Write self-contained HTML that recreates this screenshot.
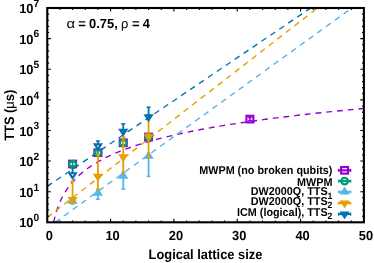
<!DOCTYPE html>
<html><head><meta charset="utf-8"><title>TTS vs logical lattice size</title>
<style>html,body{margin:0;padding:0;background:#fff;}body{width:374px;height:263px;overflow:hidden;}svg{display:block;will-change:transform;}text{font-family:"Liberation Sans",sans-serif;font-weight:bold;fill:#000;text-rendering:geometricPrecision;}</style></head><body>
<svg width="374" height="263" viewBox="0 0 374 263">
<rect x="0" y="0" width="374" height="263" fill="#fff"/>
<defs><clipPath id="pc"><rect x="47.25" y="8.0" width="316.65" height="214.3"/></clipPath></defs>
<g clip-path="url(#pc)" fill="none" stroke-width="1.4" stroke-dasharray="5.8 4.98">
<polyline stroke="#9400D3" points="53.58,222.30 53.65,222.02 53.71,221.73 53.77,221.45 53.84,221.16 53.90,220.88 53.97,220.59 54.03,220.31 54.10,220.02 54.17,219.74 54.23,219.45 54.30,219.17 54.37,218.89 54.44,218.60 54.51,218.32 54.58,218.03 54.66,217.75 54.73,217.46 54.80,217.18 54.88,216.89 54.95,216.61 55.03,216.33 55.10,216.04 55.18,215.76 55.26,215.47 55.34,215.19 55.42,214.90 55.50,214.62 55.58,214.33 55.66,214.05 55.74,213.76 55.83,213.48 55.91,213.20 56.00,212.91 56.08,212.63 56.17,212.34 56.26,212.06 56.34,211.77 56.43,211.49 56.52,211.20 56.61,210.92 56.71,210.64 56.80,210.35 56.89,210.07 56.99,209.78 57.08,209.50 57.18,209.21 57.28,208.93 57.38,208.64 57.48,208.36 57.58,208.07 57.68,207.79 57.78,207.51 57.88,207.22 57.99,206.94 58.09,206.65 58.20,206.37 58.31,206.08 58.42,205.80 58.53,205.51 58.64,205.23 58.75,204.94 58.86,204.66 58.98,204.38 59.09,204.09 59.21,203.81 59.33,203.52 59.45,203.24 59.56,202.95 59.69,202.67 59.81,202.38 59.93,202.10 60.06,201.82 60.18,201.53 60.31,201.25 60.44,200.96 60.57,200.68 60.70,200.39 60.83,200.11 60.96,199.82 61.10,199.54 61.23,199.25 61.37,198.97 61.51,198.69 61.65,198.40 61.79,198.12 61.94,197.83 62.08,197.55 62.23,197.26 62.37,196.98 62.52,196.69 62.67,196.41 62.82,196.13 62.98,195.84 63.13,195.56 63.29,195.27 63.44,194.99 63.60,194.70 63.76,194.42 63.93,194.13 64.09,193.85 64.26,193.56 64.42,193.28 64.59,193.00 64.76,192.71 64.93,192.43 65.11,192.14 65.28,191.86 65.46,191.57 65.64,191.29 65.82,191.00 66.00,190.72 66.19,190.43 66.37,190.15 66.56,189.87 66.75,189.58 66.94,189.30 67.14,189.01 67.33,188.73 67.53,188.44 67.73,188.16 67.93,187.87 68.13,187.59 68.34,187.31 68.55,187.02 68.75,186.74 68.97,186.45 69.18,186.17 69.40,185.88 69.61,185.60 69.83,185.31 70.05,185.03 70.28,184.74 70.51,184.46 70.73,184.18 70.96,183.89 71.20,183.61 71.43,183.32 71.67,183.04 71.91,182.75 72.15,182.47 72.40,182.18 72.64,181.90 72.89,181.62 73.15,181.33 73.40,181.05 73.66,180.76 73.92,180.48 74.18,180.19 74.44,179.91 74.71,179.62 74.98,179.34 75.25,179.05 75.53,178.77 75.81,178.49 76.09,178.20 76.37,177.92 76.66,177.63 76.95,177.35 77.24,177.06 77.53,176.78 77.83,176.49 78.13,176.21 78.43,175.92 78.74,175.64 79.05,175.36 79.36,175.07 79.68,174.79 80.00,174.50 80.32,174.22 80.64,173.93 80.97,173.65 81.30,173.36 81.64,173.08 81.98,172.80 82.32,172.51 82.66,172.23 83.01,171.94 83.36,171.66 83.72,171.37 84.08,171.09 84.44,170.80 84.80,170.52 85.17,170.23 85.54,169.95 85.92,169.67 86.30,169.38 86.68,169.10 87.07,168.81 87.46,168.53 87.86,168.24 88.26,167.96 88.66,167.67 89.07,167.39 89.48,167.11 89.89,166.82 90.31,166.54 90.74,166.25 91.16,165.97 91.60,165.68 92.03,165.40 92.47,165.11 92.92,164.83 93.36,164.54 93.82,164.26 94.28,163.98 94.74,163.69 95.20,163.41 95.68,163.12 96.15,162.84 96.63,162.55 97.12,162.27 97.61,161.98 98.10,161.70 98.60,161.41 99.11,161.13 99.62,160.85 100.13,160.56 100.65,160.28 101.18,159.99 101.71,159.71 102.24,159.42 102.78,159.14 103.33,158.85 103.88,158.57 104.43,158.29 105.00,158.00 105.56,157.72 106.14,157.43 106.72,157.15 107.30,156.86 107.89,156.58 108.49,156.29 109.09,156.01 109.70,155.72 110.31,155.44 110.93,155.16 111.56,154.87 112.19,154.59 112.83,154.30 113.47,154.02 114.12,153.73 114.78,153.45 115.44,153.16 116.11,152.88 116.79,152.60 117.47,152.31 118.16,152.03 118.86,151.74 119.56,151.46 120.27,151.17 120.99,150.89 121.72,150.60 122.45,150.32 123.19,150.03 123.93,149.75 124.69,149.47 125.45,149.18 126.22,148.90 126.99,148.61 127.78,148.33 128.57,148.04 129.37,147.76 130.17,147.47 130.99,147.19 131.81,146.90 132.64,146.62 133.48,146.34 134.33,146.05 135.19,145.77 136.05,145.48 136.92,145.20 137.80,144.91 138.69,144.63 139.59,144.34 140.50,144.06 141.42,143.78 142.34,143.49 143.28,143.21 144.22,142.92 145.17,142.64 146.14,142.35 147.11,142.07 148.09,141.78 149.08,141.50 150.08,141.21 151.09,140.93 152.11,140.65 153.14,140.36 154.18,140.08 155.23,139.79 156.30,139.51 157.37,139.22 158.45,138.94 159.54,138.65 160.65,138.37 161.76,138.09 162.89,137.80 164.02,137.52 165.17,137.23 166.33,136.95 167.50,136.66 168.68,136.38 169.88,136.09 171.08,135.81 172.30,135.52 173.53,135.24 174.77,134.96 176.02,134.67 177.29,134.39 178.56,134.10 179.85,133.82 181.16,133.53 182.47,133.25 183.80,132.96 185.14,132.68 186.50,132.39 187.87,132.11 189.25,131.83 190.65,131.54 192.06,131.26 193.48,130.97 194.92,130.69 196.37,130.40 197.83,130.12 199.31,129.83 200.81,129.55 202.32,129.27 203.84,128.98 205.38,128.70 206.93,128.41 208.50,128.13 210.09,127.84 211.69,127.56 213.30,127.27 214.94,126.99 216.58,126.70 218.25,126.42 219.93,126.14 221.63,125.85 223.34,125.57 225.07,125.28 226.82,125.00 228.58,124.71 230.36,124.43 232.16,124.14 233.98,123.86 235.82,123.58 237.67,123.29 239.54,123.01 241.43,122.72 243.34,122.44 245.27,122.15 247.21,121.87 249.18,121.58 251.16,121.30 253.17,121.01 255.19,120.73 257.23,120.45 259.30,120.16 261.38,119.88 263.49,119.59 265.61,119.31 267.76,119.02 269.93,118.74 272.11,118.45 274.32,118.17 276.56,117.88 278.81,117.60 281.08,117.32 283.38,117.03 285.70,116.75 288.05,116.46 290.41,116.18 292.80,115.89 295.22,115.61 297.65,115.32 300.11,115.04 302.60,114.76 305.11,114.47 307.64,114.19 310.20,113.90 312.79,113.62 315.40,113.33 318.03,113.05 320.69,112.76 323.38,112.48 326.10,112.19 328.84,111.91 331.60,111.63 334.40,111.34 337.22,111.06 340.07,110.77 342.95,110.49 345.85,110.20 348.79,109.92 351.75,109.63 354.74,109.35 357.77,109.07 360.82,108.78 363.90,108.50"/>
<line stroke="#56B4E9" x1="55.2" y1="222.3" x2="351.8" y2="8.0"/>
<line stroke="#E69F00" x1="47.25" y1="217.4" x2="317.6" y2="8.0"/>
<line stroke="#0072B2" x1="47.25" y1="186.3" x2="310.7" y2="8.0"/>
</g>
<rect x="69.13" y="160.70" width="6.90" height="6.60" fill="none" stroke="#9400D3" stroke-width="2.15"/>
<rect x="94.46" y="149.40" width="6.90" height="6.60" fill="none" stroke="#9400D3" stroke-width="2.15"/>
<rect x="119.80" y="139.50" width="6.90" height="6.60" fill="none" stroke="#9400D3" stroke-width="2.15"/>
<rect x="145.13" y="133.70" width="6.90" height="6.60" fill="none" stroke="#9400D3" stroke-width="2.15"/>
<rect x="246.46" y="115.80" width="6.90" height="6.60" fill="none" stroke="#9400D3" stroke-width="2.15"/>
<line x1="249.91" y1="116.90" x2="249.91" y2="121.30" stroke="#9400D3" stroke-width="1.6"/>
<path d="M248.11 117.50h3.6M248.11 120.70h3.6" stroke="#9400D3" stroke-width="1.3"/>
<ellipse cx="72.58" cy="164.00" rx="3.40" ry="3.20" fill="none" stroke="#009E73" stroke-width="2.3"/>
<line x1="72.58" y1="161.80" x2="72.58" y2="166.20" stroke="#009E73" stroke-width="1.5"/>
<path d="M70.68 162.30h3.8M70.68 165.70h3.8" stroke="#009E73" stroke-width="1.2"/>
<ellipse cx="97.91" cy="152.70" rx="3.40" ry="3.20" fill="none" stroke="#009E73" stroke-width="2.3"/>
<line x1="97.91" y1="150.50" x2="97.91" y2="154.90" stroke="#009E73" stroke-width="1.5"/>
<path d="M96.01 151.00h3.8M96.01 154.40h3.8" stroke="#009E73" stroke-width="1.2"/>
<ellipse cx="123.25" cy="142.80" rx="3.40" ry="3.20" fill="none" stroke="#009E73" stroke-width="2.3"/>
<line x1="123.25" y1="140.60" x2="123.25" y2="145.00" stroke="#009E73" stroke-width="1.5"/>
<path d="M121.35 141.10h3.8M121.35 144.50h3.8" stroke="#009E73" stroke-width="1.2"/>
<ellipse cx="148.58" cy="137.00" rx="3.40" ry="3.20" fill="none" stroke="#009E73" stroke-width="2.3"/>
<line x1="148.58" y1="134.80" x2="148.58" y2="139.20" stroke="#009E73" stroke-width="1.5"/>
<path d="M146.68 135.30h3.8M146.68 138.70h3.8" stroke="#009E73" stroke-width="1.2"/>
<line x1="72.58" y1="201.00" x2="72.58" y2="204.00" stroke="#56B4E9" stroke-width="1.8"/>
<line x1="70.58" y1="204.00" x2="74.58" y2="204.00" stroke="#56B4E9" stroke-width="1.5"/>
<polygon points="72.58,197.73 69.41,202.63 75.75,202.63" fill="none" stroke="#56B4E9" stroke-width="2.15" stroke-linejoin="miter"/>
<line x1="97.91" y1="189.00" x2="97.91" y2="199.30" stroke="#56B4E9" stroke-width="1.8"/>
<line x1="95.91" y1="199.30" x2="99.91" y2="199.30" stroke="#56B4E9" stroke-width="1.5"/>
<polygon points="97.91,189.73 94.75,194.63 101.08,194.63" fill="none" stroke="#56B4E9" stroke-width="2.15" stroke-linejoin="miter"/>
<line x1="123.25" y1="172.00" x2="123.25" y2="189.10" stroke="#56B4E9" stroke-width="1.8"/>
<line x1="121.25" y1="189.10" x2="125.25" y2="189.10" stroke="#56B4E9" stroke-width="1.5"/>
<polygon points="123.25,172.83 120.08,177.73 126.41,177.73" fill="none" stroke="#56B4E9" stroke-width="2.15" stroke-linejoin="miter"/>
<line x1="148.58" y1="152.00" x2="148.58" y2="176.40" stroke="#56B4E9" stroke-width="1.8"/>
<line x1="146.58" y1="176.40" x2="150.58" y2="176.40" stroke="#56B4E9" stroke-width="1.5"/>
<polygon points="148.58,152.73 145.41,157.63 151.75,157.63" fill="none" stroke="#56B4E9" stroke-width="2.15" stroke-linejoin="miter"/>
<line x1="72.58" y1="181.30" x2="72.58" y2="202.50" stroke="#E69F00" stroke-width="1.8"/>
<line x1="70.58" y1="181.30" x2="74.58" y2="181.30" stroke="#E69F00" stroke-width="1.5"/>
<line x1="70.58" y1="202.50" x2="74.58" y2="202.50" stroke="#E69F00" stroke-width="1.5"/>
<polygon points="72.58,202.87 69.41,197.97 75.75,197.97" fill="none" stroke="#E69F00" stroke-width="2.15" stroke-linejoin="miter"/>
<line x1="97.91" y1="154.50" x2="97.91" y2="189.30" stroke="#E69F00" stroke-width="1.8"/>
<line x1="95.91" y1="154.50" x2="99.91" y2="154.50" stroke="#E69F00" stroke-width="1.5"/>
<line x1="95.91" y1="189.30" x2="99.91" y2="189.30" stroke="#E69F00" stroke-width="1.5"/>
<polygon points="97.91,179.77 94.75,174.87 101.08,174.87" fill="none" stroke="#E69F00" stroke-width="2.15" stroke-linejoin="miter"/>
<line x1="123.25" y1="136.80" x2="123.25" y2="172.30" stroke="#E69F00" stroke-width="1.8"/>
<line x1="121.25" y1="136.80" x2="125.25" y2="136.80" stroke="#E69F00" stroke-width="1.5"/>
<line x1="121.25" y1="172.30" x2="125.25" y2="172.30" stroke="#E69F00" stroke-width="1.5"/>
<polygon points="123.25,160.27 120.08,155.37 126.41,155.37" fill="none" stroke="#E69F00" stroke-width="2.15" stroke-linejoin="miter"/>
<line x1="148.58" y1="114.60" x2="148.58" y2="157.60" stroke="#E69F00" stroke-width="1.8"/>
<line x1="146.58" y1="114.60" x2="150.58" y2="114.60" stroke="#E69F00" stroke-width="1.5"/>
<line x1="146.58" y1="157.60" x2="150.58" y2="157.60" stroke="#E69F00" stroke-width="1.5"/>
<polygon points="148.58,139.77 145.41,134.87 151.75,134.87" fill="none" stroke="#E69F00" stroke-width="2.15" stroke-linejoin="miter"/>
<line x1="72.58" y1="168.00" x2="72.58" y2="173.30" stroke="#0072B2" stroke-width="1.8"/>
<line x1="70.58" y1="168.00" x2="74.58" y2="168.00" stroke="#0072B2" stroke-width="1.5"/>
<polygon points="72.58,178.17 69.41,173.27 75.75,173.27" fill="none" stroke="#0072B2" stroke-width="2.15" stroke-linejoin="miter"/>
<line x1="97.91" y1="141.00" x2="97.91" y2="144.40" stroke="#0072B2" stroke-width="1.8"/>
<line x1="95.91" y1="141.00" x2="99.91" y2="141.00" stroke="#0072B2" stroke-width="1.5"/>
<polygon points="97.91,149.27 94.75,144.37 101.08,144.37" fill="none" stroke="#0072B2" stroke-width="2.15" stroke-linejoin="miter"/>
<line x1="123.25" y1="123.80" x2="123.25" y2="134.70" stroke="#0072B2" stroke-width="1.8"/>
<line x1="121.25" y1="123.80" x2="125.25" y2="123.80" stroke="#0072B2" stroke-width="1.5"/>
<polygon points="123.25,134.77 120.08,129.87 126.41,129.87" fill="none" stroke="#0072B2" stroke-width="2.15" stroke-linejoin="miter"/>
<line x1="148.58" y1="107.20" x2="148.58" y2="120.20" stroke="#0072B2" stroke-width="1.8"/>
<line x1="146.58" y1="107.20" x2="150.58" y2="107.20" stroke="#0072B2" stroke-width="1.5"/>
<polygon points="148.58,120.27 145.41,115.37 151.75,115.37" fill="none" stroke="#0072B2" stroke-width="2.15" stroke-linejoin="miter"/>
<line x1="338.40" y1="170.30" x2="350.80" y2="170.30" stroke="#9400D3" stroke-width="2.1"/>
<line x1="338.60" y1="168.85" x2="338.60" y2="171.75" stroke="#9400D3" stroke-width="1.4"/>
<line x1="350.60" y1="168.85" x2="350.60" y2="171.75" stroke="#9400D3" stroke-width="1.4"/>
<rect x="341.15" y="167.00" width="6.90" height="6.60" fill="none" stroke="#9400D3" stroke-width="2.15"/>
<line x1="338.40" y1="181.10" x2="350.80" y2="181.10" stroke="#009E73" stroke-width="2.1"/>
<line x1="338.60" y1="179.65" x2="338.60" y2="182.55" stroke="#009E73" stroke-width="1.4"/>
<line x1="350.60" y1="179.65" x2="350.60" y2="182.55" stroke="#009E73" stroke-width="1.4"/>
<ellipse cx="344.60" cy="181.10" rx="3.40" ry="3.20" fill="none" stroke="#009E73" stroke-width="2.3"/>
<line x1="338.40" y1="191.90" x2="350.80" y2="191.90" stroke="#56B4E9" stroke-width="2.1"/>
<line x1="338.60" y1="190.45" x2="338.60" y2="193.35" stroke="#56B4E9" stroke-width="1.4"/>
<line x1="350.60" y1="190.45" x2="350.60" y2="193.35" stroke="#56B4E9" stroke-width="1.4"/>
<polygon points="344.60,188.63 341.43,193.53 347.77,193.53" fill="none" stroke="#56B4E9" stroke-width="2.15" stroke-linejoin="miter"/>
<line x1="338.40" y1="203.10" x2="350.80" y2="203.10" stroke="#E69F00" stroke-width="2.1"/>
<line x1="338.60" y1="201.65" x2="338.60" y2="204.55" stroke="#E69F00" stroke-width="1.4"/>
<line x1="350.60" y1="201.65" x2="350.60" y2="204.55" stroke="#E69F00" stroke-width="1.4"/>
<polygon points="344.60,206.37 341.43,201.47 347.77,201.47" fill="none" stroke="#E69F00" stroke-width="2.15" stroke-linejoin="miter"/>
<line x1="338.40" y1="214.10" x2="350.80" y2="214.10" stroke="#0072B2" stroke-width="2.1"/>
<line x1="338.60" y1="212.65" x2="338.60" y2="215.55" stroke="#0072B2" stroke-width="1.4"/>
<line x1="350.60" y1="212.65" x2="350.60" y2="215.55" stroke="#0072B2" stroke-width="1.4"/>
<polygon points="344.60,217.37 341.43,212.47 347.77,212.47" fill="none" stroke="#0072B2" stroke-width="2.15" stroke-linejoin="miter"/>
<text transform="translate(332.40,173.60) scale(1.0,1.06)" font-size="10.8" text-anchor="end" >MWPM (no broken qubits)</text>
<text transform="translate(332.40,185.50) scale(1.0,1.06)" font-size="10.8" text-anchor="end" >MWPM</text>
<text transform="translate(332.40,195.20) scale(1.0,1.06)" font-size="10.8" text-anchor="end" >DW2000Q, TTS<tspan font-size="8.6" dy="3.2">1</tspan></text>
<text transform="translate(332.40,205.00) scale(1.0,1.06)" font-size="10.8" text-anchor="end" >DW2000Q, TTS<tspan font-size="8.6" dy="3.2">2</tspan></text>
<text transform="translate(332.40,215.60) scale(1.0,1.06)" font-size="10.8" text-anchor="end" >ICM (logical), TTS<tspan font-size="8.6" dy="3.2">2</tspan></text>
<rect x="47.25" y="8.0" width="316.65" height="214.3" fill="none" stroke="#000" stroke-width="2.1"/>
<path d="M47.25 216.18h1.9 M363.9 216.18h-1.9 M47.25 210.05h1.9 M363.9 210.05h-1.9 M47.25 203.93h1.9 M363.9 203.93h-1.9 M47.25 197.81h1.9 M363.9 197.81h-1.9 M47.25 191.69h3.6 M363.9 191.69h-3.6 M47.25 185.56h1.9 M363.9 185.56h-1.9 M47.25 179.44h1.9 M363.9 179.44h-1.9 M47.25 173.32h1.9 M363.9 173.32h-1.9 M47.25 167.19h1.9 M363.9 167.19h-1.9 M47.25 161.07h3.6 M363.9 161.07h-3.6 M47.25 154.95h1.9 M363.9 154.95h-1.9 M47.25 148.83h1.9 M363.9 148.83h-1.9 M47.25 142.70h1.9 M363.9 142.70h-1.9 M47.25 136.58h1.9 M363.9 136.58h-1.9 M47.25 130.46h3.6 M363.9 130.46h-3.6 M47.25 124.33h1.9 M363.9 124.33h-1.9 M47.25 118.21h1.9 M363.9 118.21h-1.9 M47.25 112.09h1.9 M363.9 112.09h-1.9 M47.25 105.97h1.9 M363.9 105.97h-1.9 M47.25 99.84h3.6 M363.9 99.84h-3.6 M47.25 93.72h1.9 M363.9 93.72h-1.9 M47.25 87.60h1.9 M363.9 87.60h-1.9 M47.25 81.47h1.9 M363.9 81.47h-1.9 M47.25 75.35h1.9 M363.9 75.35h-1.9 M47.25 69.23h3.6 M363.9 69.23h-3.6 M47.25 63.11h1.9 M363.9 63.11h-1.9 M47.25 56.98h1.9 M363.9 56.98h-1.9 M47.25 50.86h1.9 M363.9 50.86h-1.9 M47.25 44.74h1.9 M363.9 44.74h-1.9 M47.25 38.61h3.6 M363.9 38.61h-3.6 M47.25 32.49h1.9 M363.9 32.49h-1.9 M47.25 26.37h1.9 M363.9 26.37h-1.9 M47.25 20.25h1.9 M363.9 20.25h-1.9 M47.25 14.12h1.9 M363.9 14.12h-1.9 M59.92 222.3v-1.9 M59.92 8.0v1.9 M72.58 222.3v-1.9 M72.58 8.0v1.9 M85.25 222.3v-1.9 M85.25 8.0v1.9 M97.91 222.3v-1.9 M97.91 8.0v1.9 M110.58 222.3v-3.6 M110.58 8.0v3.6 M123.25 222.3v-1.9 M123.25 8.0v1.9 M135.91 222.3v-1.9 M135.91 8.0v1.9 M148.58 222.3v-1.9 M148.58 8.0v1.9 M161.24 222.3v-1.9 M161.24 8.0v1.9 M173.91 222.3v-3.6 M173.91 8.0v3.6 M186.58 222.3v-1.9 M186.58 8.0v1.9 M199.24 222.3v-1.9 M199.24 8.0v1.9 M211.91 222.3v-1.9 M211.91 8.0v1.9 M224.57 222.3v-1.9 M224.57 8.0v1.9 M237.24 222.3v-3.6 M237.24 8.0v3.6 M249.91 222.3v-1.9 M249.91 8.0v1.9 M262.57 222.3v-1.9 M262.57 8.0v1.9 M275.24 222.3v-1.9 M275.24 8.0v1.9 M287.90 222.3v-1.9 M287.90 8.0v1.9 M300.57 222.3v-3.6 M300.57 8.0v3.6 M313.24 222.3v-1.9 M313.24 8.0v1.9 M325.90 222.3v-1.9 M325.90 8.0v1.9 M338.57 222.3v-1.9 M338.57 8.0v1.9 M351.23 222.3v-1.9 M351.23 8.0v1.9" stroke="#000" stroke-width="1.1" fill="none"/>
<text transform="translate(19.2,227.40) scale(1.0,1.025)" font-size="12.9">10<tspan font-size="10.2" dy="-6.1">0</tspan></text>
<text transform="translate(19.2,196.79) scale(1.0,1.025)" font-size="12.9">10<tspan font-size="10.2" dy="-6.1">1</tspan></text>
<text transform="translate(19.2,166.17) scale(1.0,1.025)" font-size="12.9">10<tspan font-size="10.2" dy="-6.1">2</tspan></text>
<text transform="translate(19.2,135.56) scale(1.0,1.025)" font-size="12.9">10<tspan font-size="10.2" dy="-6.1">3</tspan></text>
<text transform="translate(19.2,104.94) scale(1.0,1.025)" font-size="12.9">10<tspan font-size="10.2" dy="-6.1">4</tspan></text>
<text transform="translate(19.2,74.33) scale(1.0,1.025)" font-size="12.9">10<tspan font-size="10.2" dy="-6.1">5</tspan></text>
<text transform="translate(19.2,43.71) scale(1.0,1.025)" font-size="12.9">10<tspan font-size="10.2" dy="-6.1">6</tspan></text>
<text transform="translate(19.2,13.10) scale(1.0,1.025)" font-size="12.9">10<tspan font-size="10.2" dy="-6.1">7</tspan></text>
<text transform="translate(49.25,240.10) scale(1.0,1.025)" font-size="12.9" text-anchor="middle" >0</text>
<text transform="translate(112.58,240.10) scale(1.0,1.025)" font-size="12.9" text-anchor="middle" >10</text>
<text transform="translate(175.91,240.10) scale(1.0,1.025)" font-size="12.9" text-anchor="middle" >20</text>
<text transform="translate(239.24,240.10) scale(1.0,1.025)" font-size="12.9" text-anchor="middle" >30</text>
<text transform="translate(302.57,240.10) scale(1.0,1.025)" font-size="12.9" text-anchor="middle" >40</text>
<text transform="translate(365.90,240.10) scale(1.0,1.025)" font-size="12.9" text-anchor="middle" >50</text>
<text transform="translate(205.50,258.60) scale(1.0,1.06)" font-size="12.9" text-anchor="middle" >Logical lattice size</text>
<text transform="translate(13.9,115.3) rotate(-90) scale(1.0,1.06)" font-size="12.9" text-anchor="middle">TTS (<tspan font-weight="normal">μ</tspan>s)</text>
<text transform="translate(66.5,27.5) scale(1.15,1.025)" font-size="12.9" style="font-weight:normal">α</text>
<text transform="translate(0,27.5) scale(1,1.025)" font-size="12.9"><tspan x="78.3">=</tspan><tspan x="89.1">0.75,</tspan><tspan x="120.9" style="font-weight:normal">ρ</tspan><tspan x="132.1">=</tspan><tspan x="142.8">4</tspan></text>
</svg></body></html>
